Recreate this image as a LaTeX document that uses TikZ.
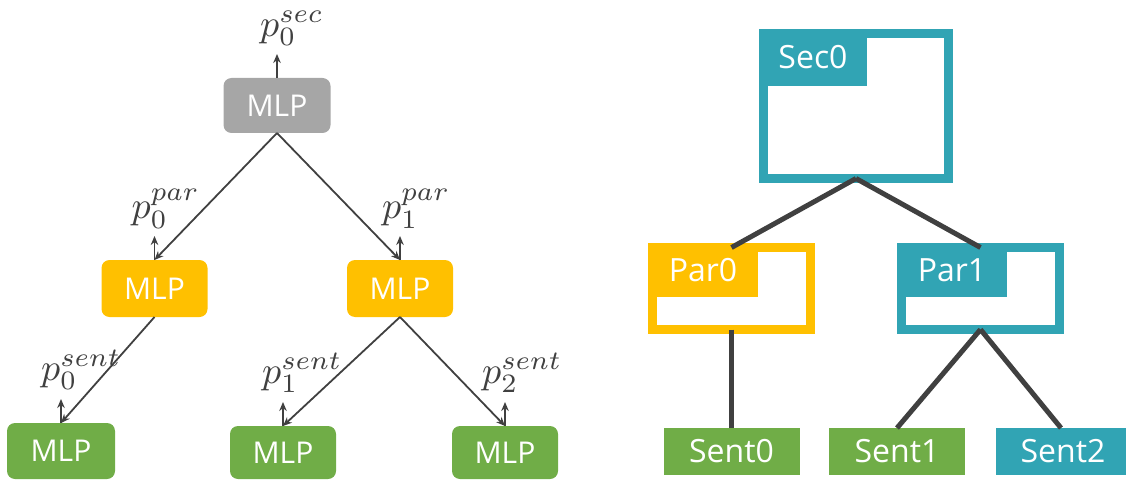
\documentclass[tikz,border=0pt]{standalone}
\usepackage{fontspec}
\setmainfont{Open Sans}
\usetikzlibrary{arrows.meta,calc}

\definecolor{mlpgray}{HTML}{A6A6A6}
\definecolor{mlpyellow}{HTML}{FFC000}
\definecolor{mlpgreen}{HTML}{70AD47}
\definecolor{secteal}{HTML}{31A4B4}
\definecolor{linedark}{HTML}{404040}

% enlarged probability symbol
\newcommand\probtext[1]{\scalebox{3.8}{$#1$}}

\tikzset{
  mlp/.style={rectangle, rounded corners=8pt, inner sep=0pt, outer sep=0pt,
    minimum width=106pt, minimum height=55pt, text=white,
    font=\fontsize{30}{30}\selectfont},
  flow/.style={draw=linedark, line width=1.8pt, -{Stealth[length=9pt,width=7.5pt]}},
  prob/.style={inner sep=0pt, anchor=south west, text=linedark,
    font=\fontsize{10}{10}\selectfont},
  segbox/.style={rectangle, draw=#1, line width=9pt, inner sep=0pt, outer sep=0pt},
  segtab/.style={rectangle, fill=#1, inner sep=0pt, outer sep=0pt, anchor=north west,
    text=white, font=\fontsize{32}{32}\selectfont},
  leaf/.style={rectangle, fill=#1, inner sep=0pt, outer sep=0pt,
    minimum width=136pt, minimum height=47pt, text=white,
    font=\fontsize{32}{32}\selectfont},
  link/.style={draw=linedark, line width=5pt},
}

\begin{document}
\begin{tikzpicture}[x=1pt, y=-1pt]
\useasboundingbox (0,0) rectangle (1126,481);

% ---------- hierarchical MLP scorer ----------
\node[mlp, fill=mlpgray, minimum width=107pt] (msec) at (277,105.5) {MLP};
\node[mlp, fill=mlpyellow, minimum height=57pt] (mpar0) at (154.5,288.5) {MLP};
\node[mlp, fill=mlpyellow, minimum height=57pt] (mpar1) at (400,288.5) {MLP};
\node[mlp, fill=mlpgreen, minimum width=108pt, minimum height=56pt] (msent0) at (61,451) {MLP};
\node[mlp, fill=mlpgreen, minimum height=53pt] (msent1) at (283,452.5) {MLP};
\node[mlp, fill=mlpgreen, minimum height=53pt] (msent2) at (505,452.5) {MLP};

\draw[flow] (msec.south) -- (mpar0.north);
\draw[flow] (msec.south) -- (mpar1.north);
\draw[flow] (mpar0.south) -- (msent0.north);
\draw[flow] (mpar1.south) -- (msent1.north);
\draw[flow] (mpar1.south) -- (msent2.north);

% output probabilities
\path (msec.north) ++(0,-24) coordinate (osec);
\path (mpar0.north) ++(0,-24) coordinate (opar0);
\path (mpar1.north) ++(0,-24) coordinate (opar1);
\path (msent0.north) ++(0,-24) coordinate (osent0);
\path (msent1.north) ++(0,-24) coordinate (osent1);
\path (msent2.north) ++(0,-24) coordinate (osent2);

\draw[flow] (msec.north) -- (osec);
\draw[flow] (mpar0.north) -- (opar0);
\draw[flow] (mpar1.north) -- (opar1);
\draw[flow] (msent0.north) -- (osent0);
\draw[flow] (msent1.north) -- (osent1);
\draw[flow] (msent2.north) -- (osent2);

\node[prob] (psec) at ($(osec)+(-17,-8)$) {\probtext{p_0^{sec}}};
\node[prob] (ppar0) at ($(opar0)+(-23,-7)$) {\probtext{p_0^{par}}};
\node[prob] (ppar1) at ($(opar1)+(-18,-7)$) {\probtext{p_1^{par}}};
\node[prob] (psent0) at ($(osent0)+(-20,-9)$) {\probtext{p_0^{sent}}};
\node[prob] (psent1) at ($(osent1)+(-21,-9)$) {\probtext{p_1^{sent}}};
\node[prob] (psent2) at ($(osent2)+(-23,-9)$) {\probtext{p_2^{sent}}};

% ---------- document structure tree ----------
\node[segbox=secteal, minimum width=185pt, minimum height=145pt] (sec0) at (856,106) {};
\node[segtab=secteal, minimum width=108pt, minimum height=57pt]
  (sec0tab) at ($(sec0.north west)+(-4.5,-4.5)$) {Sec0};

\node[segbox=mlpyellow, minimum width=158pt, minimum height=82pt] (par0) at (731.5,288.5) {};
\node[segtab=mlpyellow, minimum width=110pt, minimum height=54pt]
  (par0tab) at ($(par0.north west)+(-4.5,-4.5)$) {Par0};

\node[segbox=secteal, minimum width=158pt, minimum height=82pt] (par1) at (980.5,288.5) {};
\node[segtab=secteal, minimum width=110pt, minimum height=54pt]
  (par1tab) at ($(par1.north west)+(-4.5,-4.5)$) {Par1};

\node[leaf=mlpgreen] (sent0) at (731.5,451.5) {Sent0};
\node[leaf=mlpgreen] (sent1) at (897,451.5) {Sent1};
\node[leaf=secteal, minimum width=130pt] (sent2) at (1061,451.5) {\hspace*{4pt}Sent2};

\draw[link] (sec0.south) -- (par0.north);
\draw[link] (sec0.south) -- (par1.north);
\draw[link] (par0.south) -- (sent0.north);
\draw[link] (par1.south) -- (sent1.north);
\draw[link] (par1.south) -- (sent2.north);
\end{tikzpicture}
\end{document}
